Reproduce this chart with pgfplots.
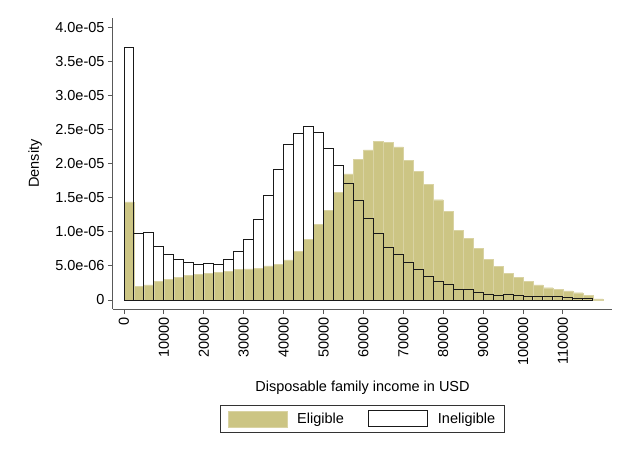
\documentclass[border=0pt]{standalone}
\usepackage{pgfplots}
\pgfplotsset{compat=1.18}
\usepackage{pgfplotstable}
\usepackage{fontspec}
\setmainfont{Liberation Sans}

\definecolor{elig}{RGB}{204,197,132}
\newcommand{\lblfont}{\fontsize{14.5}{17}\selectfont}
\pgfplotsset{histlegend/.style={legend image code/.code={\draw[##1] (0pt,-8pt) rectangle (59pt,8pt);}}}

% bin centres (width 2500 USD), density of eligible and ineligible families
\pgfplotstableread{
x      elig      inelig
1250   1.44e-5   3.70e-5
3750   0.205e-5  0.978e-5
6250   0.22e-5   0.997e-5
8750   0.27e-5   0.782e-5
11250  0.30e-5   0.674e-5
13750  0.33e-5   0.601e-5
16250  0.357e-5  0.547e-5
18750  0.38e-5   0.523e-5
21250  0.39e-5   0.538e-5
23750  0.405e-5  0.523e-5
26250  0.425e-5  0.601e-5
28750  0.45e-5   0.714e-5
31250  0.455e-5  0.885e-5
33750  0.465e-5  1.18e-5
36250  0.50e-5   1.525e-5
38750  0.52e-5   1.92e-5
41250  0.587e-5  2.28e-5
43750  0.71e-5   2.44e-5
46250  0.89e-5   2.54e-5
48750  1.105e-5  2.45e-5
51250  1.31e-5   2.22e-5
53750  1.575e-5  1.965e-5
56250  1.85e-5   1.71e-5
58750  2.06e-5   1.466e-5
61250  2.20e-5   1.198e-5
63750  2.33e-5   0.978e-5
66250  2.31e-5   0.777e-5
68750  2.245e-5  0.66e-5
71250  2.05e-5   0.547e-5
73750  1.89e-5   0.44e-5
76250  1.70e-5   0.342e-5
78750  1.47e-5   0.27e-5
81250  1.295e-5  0.22e-5
83750  1.026e-5  0.161e-5
86250  0.904e-5  0.157e-5
88750  0.758e-5  0.117e-5
91250  0.601e-5  0.083e-5
93750  0.49e-5   0.068e-5
96250  0.39e-5   0.083e-5
98750  0.332e-5  0.059e-5
101250 0.269e-5  0.054e-5
103750 0.22e-5   0.054e-5
106250 0.18e-5   0.054e-5
108750 0.157e-5  0.05e-5
111250 0.132e-5  0.039e-5
113750 0.107e-5  0.025e-5
116250 0.073e-5  0.025e-5
118750 0.015e-5  nan
}\hist

\begin{document}
\begin{tikzpicture}[x=1pt,y=1pt]
\path[use as bounding box] (0,0) rectangle (619,451);
\begin{axis}[
    at={(113pt,142pt)}, anchor=south west,
    width=499pt, height=291pt, scale only axis,
    xmin=-2757, xmax=122300,
    ymin=-0.132e-5, ymax=4.135e-5,
    axis x line*=bottom, axis y line*=left,
    axis line style={black!65, line width=1pt},
    tick align=outside, major tick length=5pt,
    tick style={black!65, line width=0.9pt},
    scaled ticks=false,
    xtick={0,10000,20000,30000,40000,50000,60000,70000,80000,90000,100000,110000},
    xticklabels={0,10000,20000,30000,40000,50000,60000,70000,80000,90000,100000,110000},
    xticklabel style={rotate=90, anchor=east},
    ytick={0,0.5e-5,1e-5,1.5e-5,2e-5,2.5e-5,3e-5,3.5e-5,4e-5},
    yticklabels={0,5.0e-06,1.0e-05,1.5e-05,2.0e-05,2.5e-05,3.0e-05,3.5e-05,4.0e-05},
    tick label style={font=\lblfont},
    label style={font=\lblfont},
    xlabel={Disposable family income in USD},
    ylabel={Density},
    xlabel style={at={(axis description cs:0.5,-0.2715)}, anchor=center},
    ylabel style={at={(axis description cs:-0.1563,0.5)}, anchor=center},
    legend columns=2,
    legend cell align=left,
    legend style={at={(0.5,-0.33)}, anchor=north, draw=black!80, line width=0.8pt,
        font=\lblfont, inner xsep=7pt, inner ysep=5pt,
        /tikz/every odd column/.append style={column sep=8pt},
        /tikz/every even column/.append style={column sep=22pt}},
]
\addplot[ybar, bar width=2500, bar shift=0, fill=elig, draw=elig!75!white, line width=0.4pt, histlegend]
    table[x=x, y=elig] {\hist};
\addplot[ybar, bar width=2500, bar shift=0, fill=none, draw=black!90, line width=1pt, histlegend]
    table[x=x, y=inelig] {\hist};
\legend{Eligible, Ineligible}
\end{axis}
\end{tikzpicture}
\end{document}
